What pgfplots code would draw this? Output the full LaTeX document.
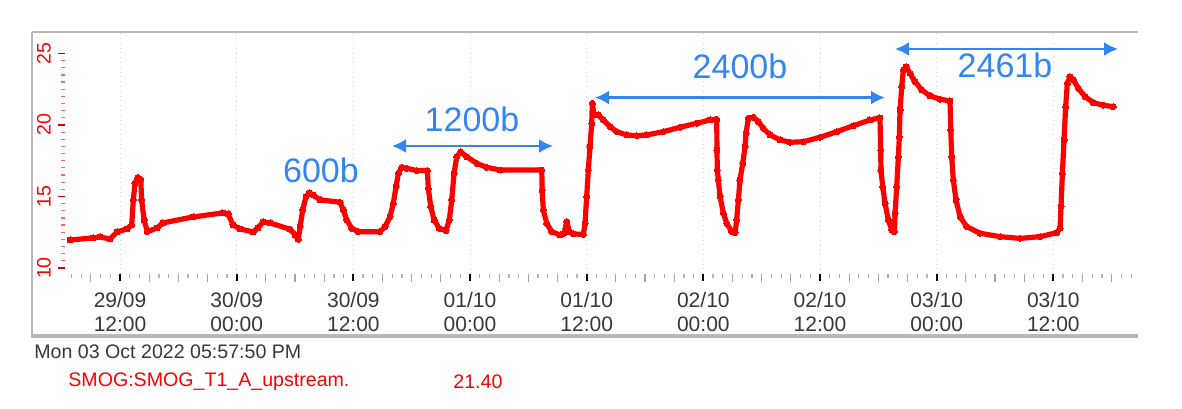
\documentclass[border=0pt]{standalone}
\usepackage{pgfplots}
\pgfplotsset{compat=1.18}
\usepackage{fontspec}
\setmainfont{Liberation Sans}
\usetikzlibrary{arrows.meta}
\definecolor{annblue}{RGB}{51,133,242}
\definecolor{labgray}{RGB}{55,55,55}
\begin{document}
\begin{tikzpicture}[x=1pt,y=1pt]
\path[use as bounding box] (0,0) rectangle (591,204);
% frame
\draw[gray!55, line width=0.6pt] (16,188) -- (569,188);
\draw[gray!55, line width=0.6pt] (16,188) -- (16,35);
\draw[gray!55, line width=1.6pt] (16,36) -- (569,36);
\begin{axis}[
  at={(32.5pt,67pt)}, anchor=south west,
  scale only axis, width=536.5pt, height=121pt,
  xmin=6.34, xmax=116.71, ymin=9.58, ymax=26.5,
  axis line style={draw=none},
  tick align=outside,
  xtick pos=lower, ytick pos=left,
  xtick={12,24,36,48,60,72,84,96,108},
  xticklabels={{29/09\\12:00},{30/09\\00:00},{30/09\\12:00},{01/10\\00:00},{01/10\\12:00},{02/10\\00:00},{02/10\\12:00},{03/10\\00:00},{03/10\\12:00}},
  xticklabel style={align=center, text=labgray, font=\fontsize{10.5}{12}\selectfont, yshift=-2pt},
  minor xtick={7,8,...,116},
  extra x ticks={9,15,18,21,27,30,33,39,42,45,51,54,57,63,66,69,75,78,81,87,90,93,99,102,105,111,114},
  extra x tick labels={},
  extra x tick style={xmajorgrids=false, major tick length=4pt, major x tick style={gray!70, line width=0.6pt}},
  xmajorgrids,
  grid style={gray!35, dotted, line width=0.5pt},
  major x tick style={black, line width=1pt},
  minor x tick style={gray!60, line width=0.6pt},
  ytick={10,15,20,25},
  minor y tick num=9,
  major y tick style={red!80!black, line width=0.9pt},
  minor y tick style={red!60, line width=0.6pt},
  major tick length=3.5pt, minor tick length=1.8pt,
  yticklabel style={rotate=90, anchor=south, text=red, font=\fontsize{9.8}{10}\selectfont},
  /pgf/number format/assume math mode=true,
]
\addplot[red, line width=2.6pt, line join=round, mark=*, mark size=1.5pt, mark options={line width=0pt}] coordinates {
(6.86,11.96) (9.22,12.10) (9.94,12.17) (10.97,12.03) (11.69,12.52) (12.72,12.73)
(13.20,13.01) (13.37,14.76) (13.54,15.92) (13.82,16.34) (14.13,16.20) (14.23,14.76)
(14.47,13.36) (14.81,12.54) (15.81,12.80) (16.42,13.15) (19.51,13.57) (22.59,13.85)
(23.11,13.78) (23.62,13.01) (24.34,12.73) (25.68,12.52) (26.19,12.80) (26.71,13.22)
(27.43,13.15) (29.49,12.71) (30.00,12.31) (30.34,12.00) (30.52,12.89) (30.79,14.06)
(31.13,14.99) (31.47,15.27) (31.88,15.10) (32.57,14.76) (34.63,14.60) (34.97,14.06)
(35.32,13.36) (35.83,12.77) (36.51,12.54) (38.74,12.54) (39.26,12.89) (39.77,13.59)
(40.11,14.52) (40.39,15.68) (40.63,16.62) (40.97,17.04) (41.49,16.97) (42.52,16.81)
(43.61,16.81) (43.71,15.57) (43.96,14.29) (44.30,13.36) (44.84,12.77) (45.53,12.61)
(45.87,13.36) (46.12,14.76) (46.36,16.62) (46.63,17.78) (47.04,18.13) (47.66,17.78)
(48.69,17.32) (49.72,17.04) (51.09,16.85) (55.38,16.85) (55.42,15.45) (55.54,14.06)
(55.89,13.12) (56.40,12.54) (57.26,12.31) (57.67,12.43) (57.95,13.24) (58.22,12.54)
(58.63,12.38) (59.66,12.35) (59.83,13.12) (60.00,14.99) (60.17,16.85) (60.34,18.48)
(60.52,20.12) (60.58,21.52) (60.76,20.70) (61.20,20.70) (61.71,20.35) (62.40,19.88)
(63.09,19.53) (64.12,19.30) (65.15,19.25) (66.17,19.30) (67.88,19.53) (69.60,19.84)
(71.32,20.12) (72.69,20.35) (73.38,20.40) (73.40,18.25) (73.44,16.85) (73.54,16.15)
(73.72,14.99) (74.06,13.82) (74.41,13.12) (74.92,12.54) (75.26,12.47) (75.43,13.36)
(75.60,14.76) (75.77,16.15) (76.05,17.32) (76.29,18.48) (76.39,19.42) (76.63,20.47)
(77.14,20.54) (77.66,20.23) (78.17,19.77) (78.86,19.30) (79.89,18.95) (80.92,18.79)
(82.29,18.83) (84.00,19.14) (85.72,19.53) (87.43,19.95) (89.14,20.35) (90.17,20.50)
(90.24,18.25) (90.27,16.85) (90.45,15.68) (90.69,14.52) (91.03,13.36) (91.38,12.66)
(91.65,12.54) (91.72,13.82) (91.89,15.68) (92.06,17.78) (92.16,19.18) (92.23,21.05)
(92.41,22.68) (92.57,23.85) (92.85,24.08) (93.26,23.61) (93.77,23.03) (94.46,22.45)
(95.32,22.03) (96.35,21.80) (97.37,21.68) (97.45,19.65) (97.55,17.78) (97.71,16.15)
(97.99,14.76) (98.40,13.59) (99.09,12.89) (100.46,12.43) (102.52,12.19) (104.57,12.07)
(106.63,12.19) (108.35,12.47) (108.69,12.77) (108.79,14.29) (108.93,16.62) (109.10,18.95)
(109.27,21.28) (109.44,22.92) (109.71,23.38) (110.06,23.15) (110.57,22.57) (111.26,21.98)
(112.11,21.56) (113.14,21.38) (114.17,21.28)
};
\end{axis}
% annotations
\draw[annblue, line width=1.2pt, {Latex[length=7pt,width=7pt]}-{Latex[length=7pt,width=7pt]}] (196,131) -- (276.5,131);
\draw[annblue, line width=1.2pt, {Latex[length=7pt,width=7pt]}-{Latex[length=7pt,width=7pt]}] (297.5,155.2) -- (442.5,155.2);
\draw[annblue, line width=1.2pt, {Latex[length=7pt,width=7pt]}-{Latex[length=7pt,width=7pt]}] (447.5,179.5) -- (559,179.5);
\node[annblue, font=\fontsize{17}{17}\selectfont] at (160.5,119) {600b};
\node[annblue, font=\fontsize{17}{17}\selectfont] at (236,144.5) {1200b};
\node[annblue, font=\fontsize{17}{17}\selectfont] at (370,171) {2400b};
\node[annblue, font=\fontsize{17}{17}\selectfont] at (502.5,171.5) {2461b};
% bottom texts
\node[anchor=west, text=labgray, font=\fontsize{9.8}{10}\selectfont, inner sep=0] at (17,28) {Mon 03 Oct 2022 05:57:50 PM};
\node[anchor=west, text=red, font=\fontsize{9.8}{10}\selectfont, inner sep=0] at (34,13) {SMOG:SMOG\_T1\_A\_upstream.};
\node[anchor=west, text=red, font=\fontsize{9.8}{10}\selectfont, inner sep=0] at (226.5,13) {21.40};
\end{tikzpicture}
\end{document}
